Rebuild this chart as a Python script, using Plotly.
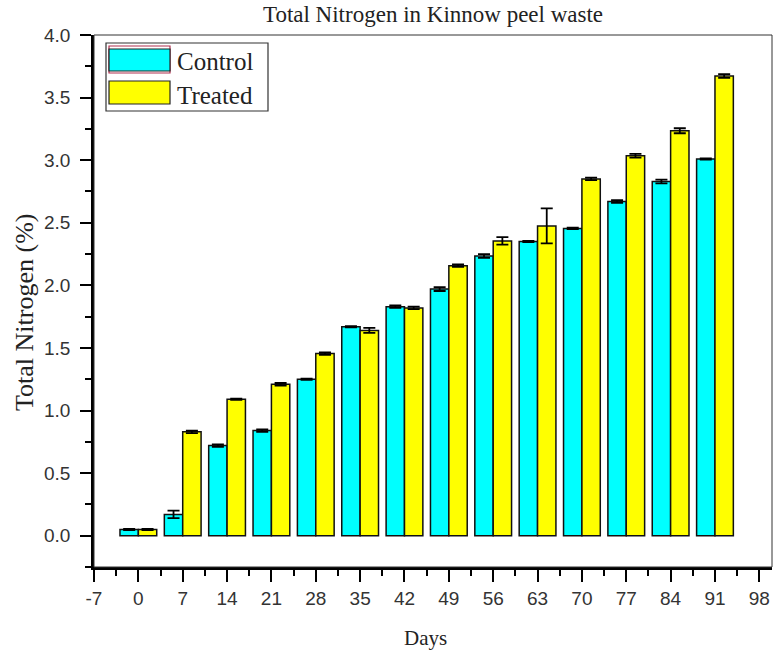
import plotly.graph_objects as go

days = [0, 7, 14, 21, 28, 35, 42, 49, 56, 63, 70, 77, 84, 91]
control = [0.05, 0.17, 0.72, 0.84, 1.25, 1.67, 1.83, 1.97, 2.235, 2.35, 2.455, 2.67, 2.83, 3.01]
control_err = [0.005, 0.03, 0.01, 0.01, 0.005, 0.005, 0.01, 0.015, 0.015, 0.005, 0.005, 0.01, 0.015, 0.005]
treated = [0.05, 0.83, 1.09, 1.21, 1.455, 1.64, 1.82, 2.157, 2.355, 2.475, 2.85, 3.035, 3.235, 3.672]
treated_err = [0.005, 0.01, 0.005, 0.01, 0.01, 0.02, 0.01, 0.01, 0.03, 0.14, 0.01, 0.015, 0.02, 0.015]
x_ticks = [-7, 0, 7, 14, 21, 28, 35, 42, 49, 56, 63, 70, 77, 84, 91, 98]
y_ticks = [0.0, 0.5, 1.0, 1.5, 2.0, 2.5, 3.0, 3.5, 4.0]

W, H = 773, 652
L, R, T, B = 94, 772, 35, 567
BW = 2.9

fig = go.Figure()
fig.add_trace(go.Bar(
    x=days, y=control, name="Control", width=BW, offset=-BW,
    marker=dict(color="#00FFFF", line=dict(color="#111111", width=1.5)),
    error_y=dict(type="data", array=control_err, color="black", thickness=1.8, width=6),
))
fig.add_trace(go.Bar(
    x=days, y=treated, name="Treated", width=BW, offset=0,
    marker=dict(color="#FFFF00", line=dict(color="#111111", width=1.5)),
    error_y=dict(type="data", array=treated_err, color="black", thickness=1.8, width=6),
))

def px(x):
    return (x - L) / (R - L)

def py(y):
    return (B - y) / (B - T)

shapes = [
    # frame
    dict(type="rect", xref="paper", yref="paper", x0=0, x1=1, y0=0, y1=1,
         line=dict(color="#333333", width=1), layer="above"),
    # legend box
    dict(type="rect", xref="paper", yref="paper", x0=px(106), x1=px(268), y0=py(111), y1=py(43),
         line=dict(color="#333333", width=1.2), fillcolor="white", layer="above"),
    # control swatch
    dict(type="rect", xref="paper", yref="paper", x0=px(109), x1=px(170), y0=py(73), y1=py(46),
         line=dict(color="#B03050", width=1.2), fillcolor="white", layer="above"),
    dict(type="rect", xref="paper", yref="paper", x0=px(109), x1=px(170), y0=py(71), y1=py(49),
         line=dict(color="#222222", width=1.2), fillcolor="#00FFFF", layer="above"),
    # treated swatch
    dict(type="rect", xref="paper", yref="paper", x0=px(109), x1=px(170), y0=py(104), y1=py(81),
         line=dict(color="#222222", width=1.2), fillcolor="#FFFF00", layer="above"),
]
annotations = [
    dict(text="Control", xref="paper", yref="paper", x=px(175), y=py(61), xanchor="left",
         yanchor="middle", showarrow=False, font=dict(family="Liberation Serif", size=25, color="#222222")),
    dict(text="Treated", xref="paper", yref="paper", x=px(175), y=py(95), xanchor="left",
         yanchor="middle", showarrow=False, font=dict(family="Liberation Serif", size=25, color="#222222")),
    # axis titles
    dict(text="Total Nitrogen (%)", xref="paper", yref="paper", x=px(25), y=py(313), textangle=-90,
         xanchor="center", yanchor="middle", showarrow=False,
         font=dict(family="Liberation Serif", size=26, color="#222222")),
    dict(text="Days", xref="paper", yref="paper", x=px(425), y=py(638),
         xanchor="center", yanchor="middle", showarrow=False,
         font=dict(family="Liberation Serif", size=21, color="#222222")),
]

fig.update_layout(
    width=W, height=H,
    margin=dict(l=L, r=W - R, t=T, b=H - B, pad=0),
    paper_bgcolor="white", plot_bgcolor="white",
    barmode="overlay",
    showlegend=False,
    title=dict(text="Total Nitrogen in Kinnow peel waste", x=(L + R) / 2 / W, xanchor="center",
               y=1 - 14 / H, yanchor="middle", yref="container",
               font=dict(family="Liberation Serif", size=23, color="#222222")),
    shapes=shapes,
    annotations=annotations,
    xaxis=dict(
        range=[-7, 100], tickmode="array", tickvals=x_ticks, ticktext=[str(v) for v in x_ticks],
        ticks="outside", ticklen=12, tickwidth=2.2, tickcolor="black",
        showline=True, linewidth=2.5, linecolor="black", showgrid=False, zeroline=False,
        minor=dict(ticks="outside", ticklen=6, tickwidth=2.2, tickcolor="black", dtick=7, tick0=-3.5),
        tickfont=dict(family="Liberation Sans", size=19, color="#333333"),
    ),
    yaxis=dict(
        range=[-0.25, 4.0], tickmode="array", tickvals=y_ticks, ticktext=[f"{v:.1f}" for v in y_ticks],
        ticks="outside", ticklen=11, tickwidth=2.2, tickcolor="black", ticklabelstandoff=6,
        showline=True, linewidth=2.5, linecolor="black", showgrid=False, zeroline=False,
        minor=dict(ticks="outside", ticklen=6, tickwidth=2.2, tickcolor="black", dtick=0.5, tick0=0.25),
        tickfont=dict(family="Liberation Sans", size=19, color="#333333"),
    ),
)

fig.write_html("out.html")
